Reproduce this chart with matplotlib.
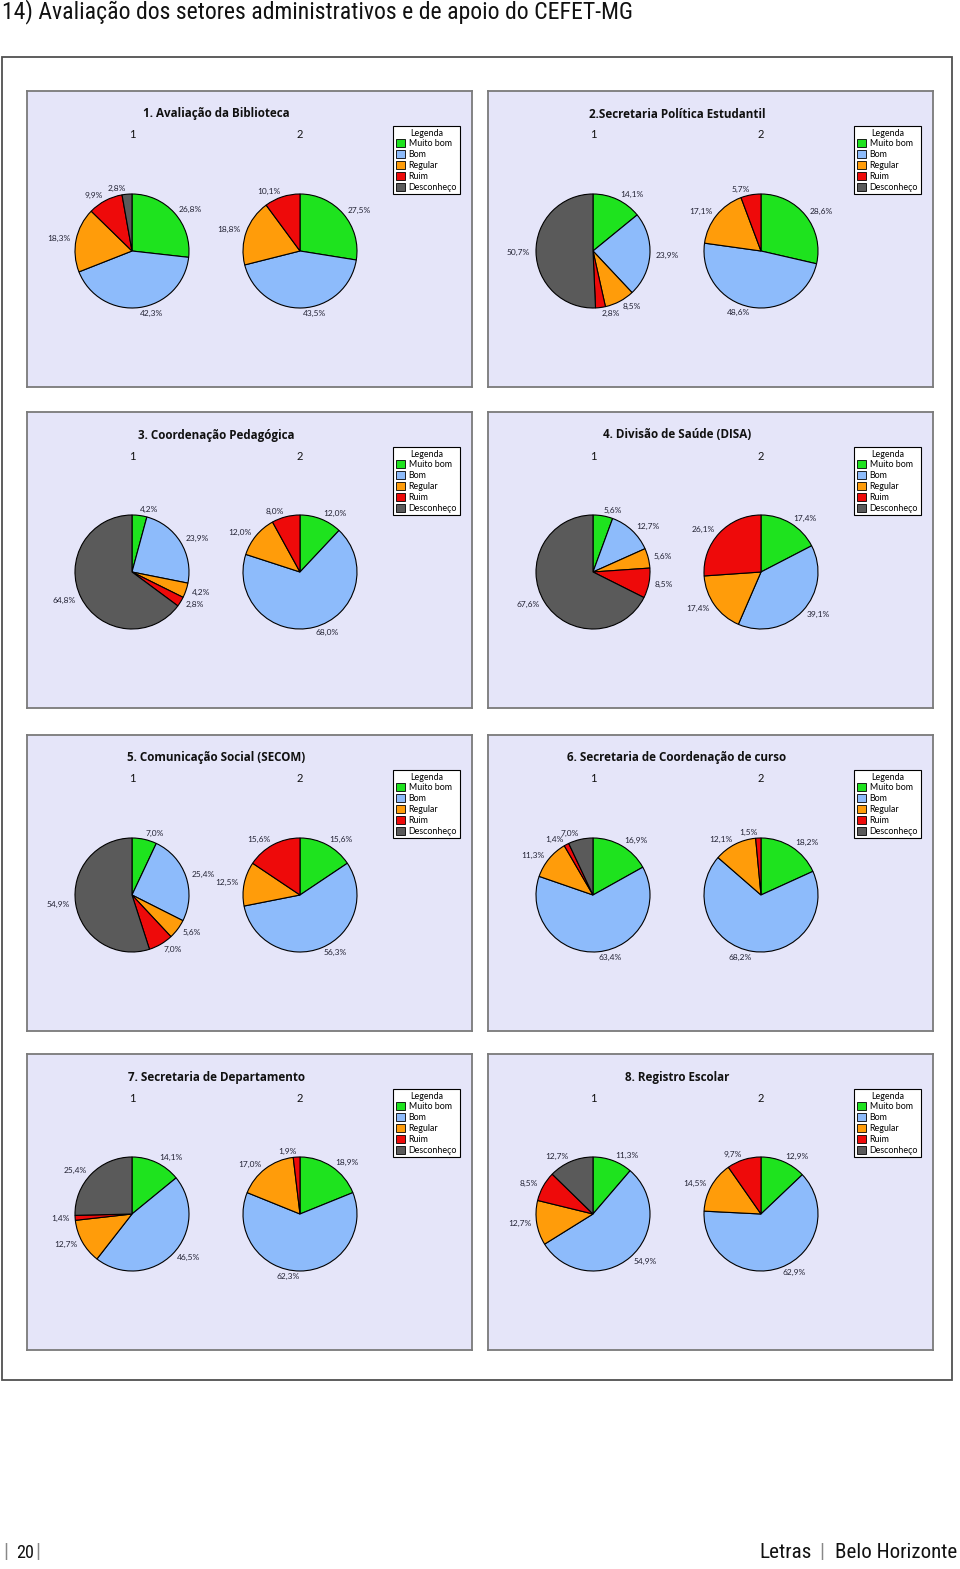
import matplotlib
matplotlib.use('Agg')
import matplotlib.pyplot as plt
from matplotlib.patches import Patch, Rectangle
from matplotlib import font_manager

# ---------------- data ----------------
CATEGORIES = ['Muito bom', 'Bom', 'Regular', 'Ruim', 'Desconheço']
COLORS = ['#1EE31E', '#8DBBFB', '#FF9C0A', '#EE0A0A', '#5A5A5A']
GROUPS = ['1', '2']

PANEL_TITLES = [
    '1. Avaliação da Biblioteca',
    '2.Secretaria Política Estudantil',
    '3. Coordenação Pedagógica',
    '4. Divisão de Saúde (DISA)',
    '5. Comunicação Social (SECOM)',
    '6. Secretaria de Coordenação de curso',
    '7. Secretaria de Departamento',
    '8. Registro Escolar',
]

biblioteca_1 = [26.8, 42.3, 18.3, 9.9, 2.8]
biblioteca_2 = [27.5, 43.5, 18.8, 10.1, 0.0]
politica_1 = [14.1, 23.9, 8.5, 2.8, 50.7]
politica_2 = [28.6, 48.6, 17.1, 5.7, 0.0]
pedagogica_1 = [4.2, 23.9, 4.2, 2.8, 64.8]
pedagogica_2 = [12.0, 68.0, 12.0, 8.0, 0.0]
disa_1 = [5.6, 12.7, 5.6, 8.5, 67.6]
disa_2 = [17.4, 39.1, 17.4, 26.1, 0.0]
secom_1 = [7.0, 25.4, 5.6, 7.0, 54.9]
secom_2 = [15.6, 56.3, 12.5, 15.6, 0.0]
coord_curso_1 = [16.9, 63.4, 11.3, 1.4, 7.0]
coord_curso_2 = [18.2, 68.2, 12.1, 1.5, 0.0]
departamento_1 = [14.1, 46.5, 12.7, 1.4, 25.4]
departamento_2 = [18.9, 62.3, 17.0, 1.9, 0.0]
registro_1 = [11.3, 54.9, 12.7, 8.5, 12.7]
registro_2 = [12.9, 62.9, 14.5, 9.7, 0.0]

PANEL_DATA = [
    (biblioteca_1, biblioteca_2),
    (politica_1, politica_2),
    (pedagogica_1, pedagogica_2),
    (disa_1, disa_2),
    (secom_1, secom_2),
    (coord_curso_1, coord_curso_2),
    (departamento_1, departamento_2),
    (registro_1, registro_2),
]

PAGE_TITLE = '14) Avaliação dos setores administrativos e de apoio do CEFET-MG'

# ---------------- fonts ----------------
def pick(fams):
    for f in fams:
        try:
            font_manager.findfont(font_manager.FontProperties(family=f),
                                  fallback_to_default=False)
            return f
        except Exception:
            pass
    return 'DejaVu Sans'

NARROW = pick(['Liberation Sans Narrow', 'Roboto Condensed', 'Open Sans Condensed', 'Liberation Sans'])
PFONT = pick(['Lato', 'Noto Sans', 'DejaVu Sans'])
TFONT = pick(['Open Sans', 'Noto Sans', 'DejaVu Sans'])

# ---------------- layout ----------------
W, H = 960, 1569
fig = plt.figure(figsize=(W / 100, H / 100), dpi=100)
fig.patch.set_facecolor('white')


def box(x, y, w, h):
    return [x / W, 1 - (y + h) / H, w / W, h / H]


def fx(x):
    return x / W


def fy(y):
    return 1 - y / H


# outer frame
fig.patches.append(Rectangle((fx(2), fy(1380)), (950) / W, (1380 - 57) / H,
                             transform=fig.transFigure, facecolor='white',
                             edgecolor='#505050', linewidth=1.3, zorder=-5))

PANEL_X = [27, 488]
PANEL_Y = [91, 412, 735, 1054]
PW, PH = 445, 296
BG = '#E5E5F9'
R = 57
L = 1.03

renderer = fig.canvas.get_renderer()

# panel-title size fitted so that the first title is ~148 px wide
probe = fig.text(0, 0, PANEL_TITLES[0], fontsize=10, fontweight='bold', family=TFONT)
TSIZE = 10 * 148 / probe.get_window_extent(renderer).width
probe.remove()

for i, (title, (v1, v2)) in enumerate(zip(PANEL_TITLES, PANEL_DATA)):
    px = PANEL_X[i % 2]
    py = PANEL_Y[i // 2]
    ax = fig.add_axes(box(px, py, PW, PH))
    ax.set_facecolor(BG)
    ax.set_xticks([])
    ax.set_yticks([])
    for s in ax.spines.values():
        s.set_color('#7a7a7a')
        s.set_linewidth(1.3)

    fig.text(fx(px + 189), fy(py + 23), title, ha='center', va='center',
             fontsize=TSIZE, fontweight='bold', family=TFONT, color='#111111', zorder=5)

    for j, (cx, vals) in enumerate(zip([105, 273], (v1, v2))):
        fig.text(fx(px + cx), fy(py + 44), GROUPS[j], ha='center', va='center',
                 fontsize=8, family=PFONT, color='#111111', zorder=5)
        use = [(v, c) for v, c in zip(vals, COLORS) if v > 0]
        values = [u[0] for u in use]
        cols = [u[1] for u in use]
        labs = [f'{v:.1f}%'.replace('.', ',') for v in values]
        pax = fig.add_axes(box(px + cx - R * L, py + 160 - R * L, 2 * R * L, 2 * R * L))
        wedges, texts = pax.pie(values, colors=cols, startangle=90, counterclock=False,
                                labels=labs, labeldistance=1.1,
                                wedgeprops=dict(edgecolor='black', linewidth=0.8),
                                textprops=dict(fontsize=6.0, family=PFONT, color='#222233'))
        pax.set_xlim(-L, L)
        pax.set_ylim(-L, L)
        pax.set_aspect('equal')
        pax.set_frame_on(False)

    handles = [Patch(facecolor=c, edgecolor='black', linewidth=0.6, label=n)
               for c, n in zip(COLORS, CATEGORIES)]
    leg = ax.legend(handles=handles, title='Legenda', loc='upper left',
                    bbox_to_anchor=(fx(px + 366), fy(py + 35)),
                    bbox_transform=fig.transFigure, borderaxespad=0,
                    prop=dict(family=PFONT, size=6.4), title_fontproperties=dict(family=PFONT, size=6.4),
                    frameon=True, fancybox=False, framealpha=1, edgecolor='black',
                    borderpad=0.3, labelspacing=0.2, handlelength=1.05, handleheight=1.0,
                    handletextpad=0.4)
    leg.get_frame().set_linewidth(0.8)
    leg.get_frame().set_facecolor('white')

# page title, width fitted to the reference
t = fig.text(fx(2), fy(12), PAGE_TITLE, ha='left', va='center', fontsize=16,
             family=NARROW, color='#111111')
bb = t.get_window_extent(renderer)
t.set_fontsize(16 * 632 / bb.width)

# footer
def fit(txt, x, y, width, ha, color='#111111', base=14):
    tt = fig.text(fx(x), fy(y), txt, ha=ha, va='center', fontsize=base,
                  family=NARROW, color=color)
    b = tt.get_window_extent(renderer)
    tt.set_fontsize(base * width / b.width)
    return tt

fit('20', 16, 1553, 18, 'left')
fig.text(fx(6), fy(1553), '|', ha='center', va='center', fontsize=15, family=NARROW, color='#888888')
fig.text(fx(38), fy(1553), '|', ha='center', va='center', fontsize=15, family=NARROW, color='#888888')
fit('Letras', 812, 1553, 53, 'right')
fig.text(fx(822), fy(1553), '|', ha='center', va='center', fontsize=15, family=NARROW, color='#888888')
fit('Belo Horizonte', 957, 1553, 123, 'right')

fig.savefig('out.png', dpi=100, facecolor='white')
